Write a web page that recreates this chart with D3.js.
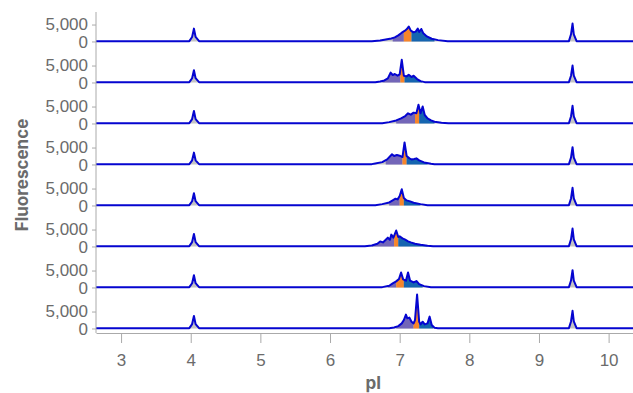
<!DOCTYPE html>
<html>
<head>
<meta charset="utf-8">
<script src="https://cdn.jsdelivr.net/npm/d3@7"></script>
<style>
  body { margin: 0; background: #fff; }
  svg { display: block; font-family: Inter, "Noto Sans", sans-serif; }
</style>
</head>
<body>
<div id="chart"></div>
<script>
// x axis (pI) ticks and y ticks per panel
const pITicks = [3, 4, 5, 6, 7, 8, 9, 10];
const fluoTicks = [0, 5000];

// pI markers, shared in every run: peak height per panel
const lowMarker = [3800, 3600, 3700, 3500, 3600, 3700, 3600, 3700];
const highMarker = [5300, 5000, 5200, 5100, 5200, 5300, 5100, 5200];

// main cluster of each run, [pI, fluorescence]
const run1 = [[6.6, 100], [6.72, 300], [6.8, 600], [6.88, 900], [6.93, 1200], [6.98, 1800],
  [7.03, 2600], [7.07, 3100], [7.1, 3600], [7.13, 4400], [7.16, 3200], [7.2, 2700],
  [7.23, 2900], [7.26, 3800], [7.28, 2800], [7.31, 3700], [7.34, 2400], [7.39, 1500],
  [7.46, 800], [7.55, 400], [7.69, 100]];
const run2 = [[6.65, 100], [6.72, 300], [6.78, 600], [6.83, 1200], [6.87, 2900], [6.9, 2200],
  [6.93, 2500], [6.97, 2000], [7.0, 2400], [7.03, 6700], [7.06, 2000], [7.1, 1800],
  [7.13, 2300], [7.17, 1600], [7.2, 2000], [7.25, 1000], [7.3, 400], [7.36, 100]];
const run3 = [[6.75, 100], [6.85, 400], [6.95, 900], [7.02, 1500], [7.08, 2200], [7.12, 3000],
  [7.16, 2600], [7.2, 3200], [7.24, 3000], [7.27, 5500], [7.3, 3000], [7.33, 5000],
  [7.36, 2500], [7.4, 1500], [7.45, 900], [7.5, 500], [7.6, 200], [7.7, 100]];
const run4 = [[6.6, 100], [6.65, 300], [6.75, 700], [6.82, 1500], [6.89, 3000], [6.92, 2500],
  [6.96, 2800], [7.0, 2600], [7.04, 2200], [7.07, 6500], [7.1, 2500], [7.14, 1800],
  [7.17, 1500], [7.21, 1600], [7.24, 1800], [7.28, 1200], [7.35, 600], [7.45, 200], [7.5, 100]];
const run5 = [[6.65, 100], [6.75, 400], [6.85, 900], [6.9, 1500], [6.94, 2000], [6.97, 1800],
  [7.0, 2800], [7.03, 4800], [7.06, 2200], [7.1, 1500], [7.15, 1200], [7.2, 800],
  [7.3, 400], [7.4, 100]];
const run6 = [[6.5, 100], [6.6, 300], [6.68, 800], [6.72, 1500], [6.76, 1200], [6.8, 2000],
  [6.83, 2600], [6.86, 2000], [6.88, 3500], [6.91, 2600], [6.95, 4700], [6.98, 2800],
  [7.0, 3000], [7.04, 2400], [7.08, 2000], [7.12, 1500], [7.16, 1200], [7.22, 800],
  [7.3, 500], [7.4, 200], [7.48, 100]];
const run7 = [[6.75, 100], [6.85, 500], [6.9, 1200], [6.95, 1800], [6.99, 2500], [7.02, 4400],
  [7.05, 2400], [7.09, 2000], [7.12, 4400], [7.15, 2000], [7.2, 1500], [7.24, 1900],
  [7.28, 1000], [7.35, 400], [7.45, 100]];
const run8 = [[6.85, 100], [6.92, 300], [6.98, 700], [7.03, 1500], [7.06, 2500], [7.09, 4100],
  [7.11, 3000], [7.14, 3200], [7.17, 2000], [7.2, 1500], [7.22, 2500], [7.25, 10000],
  [7.28, 2000], [7.3, 1200], [7.33, 2000], [7.36, 1200], [7.4, 1500], [7.43, 3500],
  [7.46, 1000], [7.5, 200], [7.55, 100]];
const runs = [run1, run2, run3, run4, run5, run6, run7, run8];

// zone limits per run: acidic start, main start, main end, basic end
const zones = [
  [6.9, 7.06, 7.17, 7.5],
  [6.75, 7.01, 7.07, 7.32],
  [6.95, 7.22, 7.28, 7.5],
  [6.8, 7.04, 7.1, 7.4],
  [6.85, 7.0, 7.06, 7.3],
  [6.6, 6.92, 6.98, 7.4],
  [6.83, 6.95, 7.06, 7.33],
  [6.95, 7.2, 7.28, 7.48]
];
const zoneColors = ["#7366b8", "#f7852a", "#1565b0"];

const width = 633, height = 393;
const margin = { top: 12, right: 0, bottom: 60, left: 96 };
const panelH = 41;
const axisY = 333;
const textColor = "#6b6b6b";
const lineColor = "#0505d0";

const svg = d3.select("#chart").append("svg")
  .attr("width", width)
  .attr("height", height);

const x = d3.scaleLinear().domain([2.64, 10.35]).range([margin.left, width - margin.right]);

runs.forEach((run, i) => {
  const top = margin.top + i * panelH;
  const y = d3.scaleLinear().domain([-3400, 8700]).range([top + panelH, top]);

  // full trace: baseline, low marker, cluster, high marker, baseline
  const trace = [[2.64, 100], [3.98, 100], [4.02, lowMarker[i] * 0.35], [4.046, lowMarker[i]],
    [4.07, lowMarker[i] * 0.35], [4.12, 100]]
    .concat(run)
    .concat([[9.43, 100], [9.46, highMarker[i] * 0.4], [9.482, highMarker[i]],
      [9.5, highMarker[i] * 0.4], [9.54, 100], [10.35, 100]]);

  const area = d3.area()
    .x(d => x(d[0]))
    .y0(y(0))
    .y1(d => y(d[1]));
  const line = d3.line()
    .x(d => x(d[0]))
    .y(d => y(d[1]));

  const g = svg.append("g");

  g.append("path")
    .datum(trace)
    .attr("fill", "#c4c4c4")
    .attr("d", area);

  // coloured zones, clipped to their pI range
  const z = zones[i];
  [0, 1, 2].forEach(k => {
    const id = `clip-${i}-${k}`;
    svg.append("clipPath").attr("id", id)
      .append("rect")
      .attr("x", x(z[k]))
      .attr("width", x(z[k + 1]) - x(z[k]))
      .attr("y", 0)
      .attr("height", height);
    g.append("path")
      .datum(run)
      .attr("clip-path", `url(#${id})`)
      .attr("fill", zoneColors[k])
      .attr("d", area);
  });

  g.append("path")
    .datum(trace)
    .attr("fill", "none")
    .attr("stroke", lineColor)
    .attr("stroke-width", 2)
    .attr("stroke-linejoin", "round")
    .attr("d", line);

  // y axis for this run
  const yAxis = d3.axisLeft(y).tickValues(fluoTicks).tickSize(4).tickSizeOuter(0)
    .tickFormat(d3.format(","));
  const ag = svg.append("g")
    .attr("transform", `translate(${margin.left},0)`)
    .call(yAxis);
  ag.select(".domain").remove();
  ag.selectAll("line").attr("stroke", "#aaa");
  ag.selectAll("text")
    .attr("x", -8)
    .attr("dy", d => d === 0 ? "0.36em" : "0.3em")
    .attr("fill", textColor)
    .style("font-size", "17px");
});

// continuous y axis line
svg.append("line")
  .attr("x1", margin.left).attr("x2", margin.left)
  .attr("y1", margin.top).attr("y2", axisY)
  .attr("stroke", "#aaa");

// x axis
const xAxis = d3.axisBottom(x).tickValues(pITicks).tickSize(10).tickSizeOuter(0);
const xg = svg.append("g")
  .attr("transform", `translate(0,${axisY})`)
  .call(xAxis);
xg.select(".domain").attr("stroke", "#aaa");
xg.selectAll("line").attr("stroke", "#aaa");
xg.selectAll("text")
  .attr("fill", textColor)
  .attr("dy", "1.2em")
  .style("font-size", "17px");

svg.append("text")
  .attr("x", x(6.62))
  .attr("y", 389)
  .attr("text-anchor", "middle")
  .attr("fill", textColor)
  .style("font-size", "17px")
  .style("font-weight", "bold")
  .text("pI");

svg.append("text")
  .attr("transform", "rotate(-90)")
  .attr("x", -175)
  .attr("y", 28)
  .attr("text-anchor", "middle")
  .attr("fill", textColor)
  .style("font-size", "17px")
  .style("font-weight", "bold")
  .text("Fluorescence");
</script>
</body>
</html>
